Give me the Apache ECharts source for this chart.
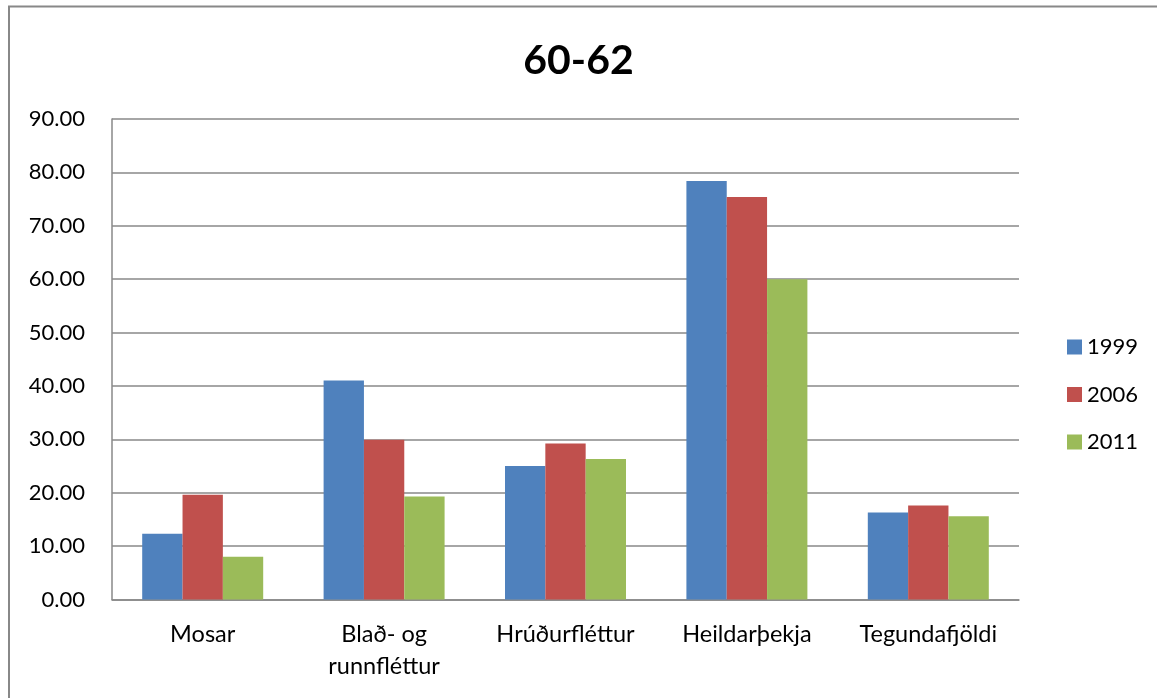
<!DOCTYPE html>
<html>
<head>
<meta charset="utf-8">
<style>
  html, body { margin: 0; padding: 0; background: #ffffff; }
  #chart { width: 1157px; height: 698px; }
</style>
<script src="https://cdn.jsdelivr.net/npm/echarts@6/dist/echarts.min.js"></script>
</head>
<body>
<div id="chart"></div>
<script>
// Categories along the x axis
const categories = ['Mosar', 'Blað- og\nrunnfléttur', 'Hrúðurfléttur', 'Heildarþekja', 'Tegundafjöldi'];

// Survey years
const years = ['1999', '2006', '2011'];

// Values per year, one entry per category
const values1999 = [12.3, 41.0, 25.0, 78.4, 16.3];
const values2006 = [19.6, 29.9, 29.2, 75.4, 17.6];
const values2011 = [8.0, 19.3, 26.3, 60.0, 15.6];

const colors = ['#4F81BD', '#C0504D', '#9BBB59'];
const font = 'Lato, "Open Sans", "DejaVu Sans", sans-serif';

const chart = echarts.init(document.getElementById('chart'), null, { renderer: 'canvas' });

const seriesData = [values1999, values2006, values2011];

chart.setOption({
  animation: false,
  backgroundColor: '#ffffff',
  textStyle: { fontFamily: font },
  title: {
    text: '60-62',
    left: 'center',
    top: 35,
    textStyle: { fontFamily: font, fontSize: 41, fontWeight: 'bold', color: '#000000', lineHeight: 41 }
  },
  graphic: [{
    type: 'rect',
    shape: { x: 9, y: 6.5, width: 1300, height: 900 },
    style: { fill: 'none', stroke: '#888888', lineWidth: 2 },
    silent: true
  }],
  legend: {
    orient: 'vertical',
    left: 1062,
    top: 331,
    itemWidth: 15,
    itemHeight: 15,
    itemGap: 25.5,
    icon: 'rect',
    data: years,
    textStyle: { fontFamily: font, fontSize: 22, color: '#000000', padding: [0, 0, 0, 0] }
  },
  grid: { left: 112, right: 138, top: 119, bottom: 98.5, containLabel: false },
  xAxis: {
    type: 'category',
    data: categories,
    axisLine: { show: true, lineStyle: { color: '#888888', width: 1.5 } },
    axisTick: { show: false },
    axisLabel: { fontFamily: font, fontSize: 23.5, color: '#000000', margin: 19, lineHeight: 32, interval: 0 }
  },
  yAxis: {
    type: 'value',
    min: 0,
    max: 90,
    interval: 10,
    axisLine: { show: true, lineStyle: { color: '#888888', width: 1.5 } },
    axisTick: { show: false },
    splitLine: { show: true, lineStyle: { color: '#888888', width: 1.5 } },
    axisLabel: {
      fontFamily: font, fontSize: 22, color: '#000000', margin: 27,
      formatter: v => v.toFixed(2)
    }
  },
  series: years.map((y, i) => ({
    name: y,
    type: 'bar',
    data: seriesData[i],
    barGap: '0%',
    barCategoryGap: '33.3%',
    itemStyle: { color: colors[i] }
  }))
});
</script>
</body>
</html>
